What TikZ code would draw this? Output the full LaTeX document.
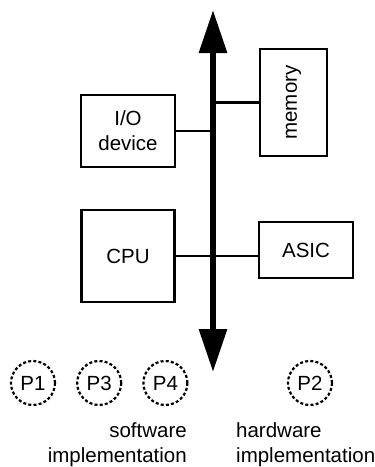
\documentclass[tikz,border=0pt]{standalone}
\usepackage{fontspec}
\setmainfont{Liberation Sans}
\usetikzlibrary{positioning, arrows.meta}

\begin{document}
\begin{tikzpicture}[
    x=1pt, y=-1pt,
    node distance=20pt,
    box/.style={rectangle, draw, line width=2.2pt, inner sep=0pt, align=center},
    proc/.style={circle, draw, dashed, dash pattern=on 3pt off 2.2pt, line width=2.2pt, minimum size=44pt, inner sep=0pt},
    link/.style={line width=2.2pt},
    bus/.style={line width=6pt, {Triangle[width=27pt, length=43pt]}-{Triangle[width=27pt, length=43pt]}},
    every node/.style={font=\fontsize{20.5}{25}\selectfont}
]
    \useasboundingbox (0,0) rectangle (375,467);

    % Bus
    \coordinate (bustop) at (213,10);
    \coordinate (busbot) at (213,372);
    \draw[bus] (bustop) -- (busbot);

    % Boxes
    \node[box, minimum width=94pt, minimum height=72pt] (io) at (128,131) {I/O\\device};
    \node[box, minimum width=67pt, minimum height=107pt] (memory) at (293.5,102.5) {\rotatebox{90}{memory}};
    \node[box, minimum width=93pt, minimum height=92pt, below=41pt of io] (cpu) {CPU};
    \node[box, minimum width=94pt, minimum height=56pt] (asic) at (306,250) {ASIC};

    % Connections to the bus
    \draw[link] (io.east) -- (io.east -| bustop);
    \draw[link] (bustop |- memory.west) -- (memory.west);
    \draw[link] (cpu.east) -- (cpu.east -| asic.west);

    % Processes
    \node[proc] (p1) at (33,383) {P1};
    \node[proc, right=of p1] (p3) {P3};
    \node[proc, right=of p3] (p4) {P4};
    \node[proc] (p2) at (310,383) {P2};

    % Labels
    \node[align=right, inner sep=0pt, anchor=north east] (swlabel) at (187,422) {software\\implementation};
    \node[align=left, inner sep=0pt, anchor=north west] (hwlabel) at (236,422) {hardware\\implementation};
\end{tikzpicture}
\end{document}
